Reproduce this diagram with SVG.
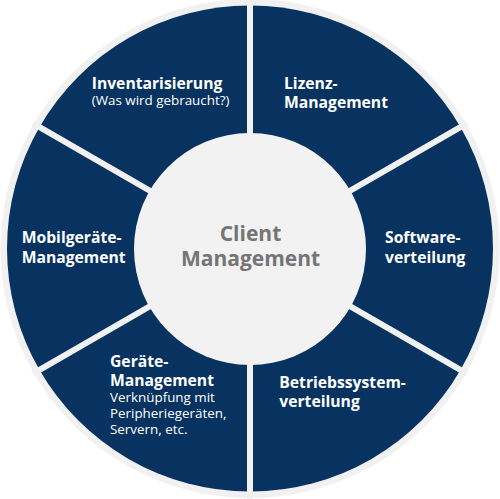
<svg xmlns="http://www.w3.org/2000/svg" width="500" height="499" viewBox="0 0 500 499">
<style>
.sec{fill:#08325f}
.t{font-family:"Open Sans","Liberation Sans",sans-serif;fill:#fff}
.b{font-weight:700;font-size:15.7px}
.r{font-weight:400;font-size:13.4px}
.sep{stroke:#f1f1f1;stroke-width:6}
.c{font-family:"Open Sans","Liberation Sans",sans-serif;font-weight:700;font-size:21px;fill:#757575;text-anchor:middle}
</style>
<rect width="500" height="499" fill="#fff"/>
<circle cx="250" cy="248.5" r="249.5" fill="#f1f1f1"/>
<g id="lizenz">
<path class="sec" d="M250,248.5 L250,5.5 A243,243 0 0 1 460.44,127 Z"/>
<text class="t b" x="284" y="89">Lizenz-</text>
<text class="t b" x="284" y="108">Management</text>
</g>
<g id="software">
<path class="sec" d="M250,248.5 L460.44,127 A243,243 0 0 1 460.44,370 Z"/>
<text class="t b" x="385" y="242.7">Software-</text>
<text class="t b" x="385" y="262.7">verteilung</text>
</g>
<g id="betriebssystem">
<path class="sec" d="M250,248.5 L460.44,370 A243,243 0 0 1 250,491.5 Z"/>
<text class="t b" x="279.3" y="388.3">Betriebssystem-</text>
<text class="t b" x="279.3" y="406.7">verteilung</text>
</g>
<g id="geraete">
<path class="sec" d="M250,248.5 L250,491.5 A243,243 0 0 1 39.56,370 Z"/>
<text class="t b" x="110" y="366.7">Geräte-</text>
<text class="t b" x="110" y="385.7">Management</text>
<text class="t r" x="110" y="401.7">Verknüpfung mit</text>
<text class="t r" x="110" y="418">Peripheriegeräten,</text>
<text class="t r" x="110" y="434">Servern, etc.</text>
</g>
<g id="mobil">
<path class="sec" d="M250,248.5 L39.56,370 A243,243 0 0 1 39.56,127 Z"/>
<text class="t b" x="21.7" y="242.7">Mobilgeräte-</text>
<text class="t b" x="21.7" y="262.7">Management</text>
</g>
<g id="inventar">
<path class="sec" d="M250,248.5 L39.56,127 A243,243 0 0 1 250,5.5 Z"/>
<text class="t b" x="91.7" y="89">Inventarisierung</text>
<text class="t r" x="91.7" y="105">(Was wird gebraucht?)</text>
</g>
<g id="separators">
<line class="sep" x1="250" y1="248.5" x2="250" y2="-2"/>
<line class="sep" x1="250" y1="248.5" x2="250" y2="500"/>
<line class="sep" x1="250" y1="248.5" x2="466.9" y2="123.3"/>
<line class="sep" x1="250" y1="248.5" x2="466.9" y2="373.7"/>
<line class="sep" x1="250" y1="248.5" x2="33.1" y2="373.7"/>
<line class="sep" x1="250" y1="248.5" x2="33.1" y2="123.3"/>
</g>
<g id="center">
<circle cx="250" cy="249" r="116" fill="#f2f2f2"/>
<text class="c" x="250.5" y="241">Client</text>
<text class="c" x="250.5" y="265.7">Management</text>
</g>
</svg>
